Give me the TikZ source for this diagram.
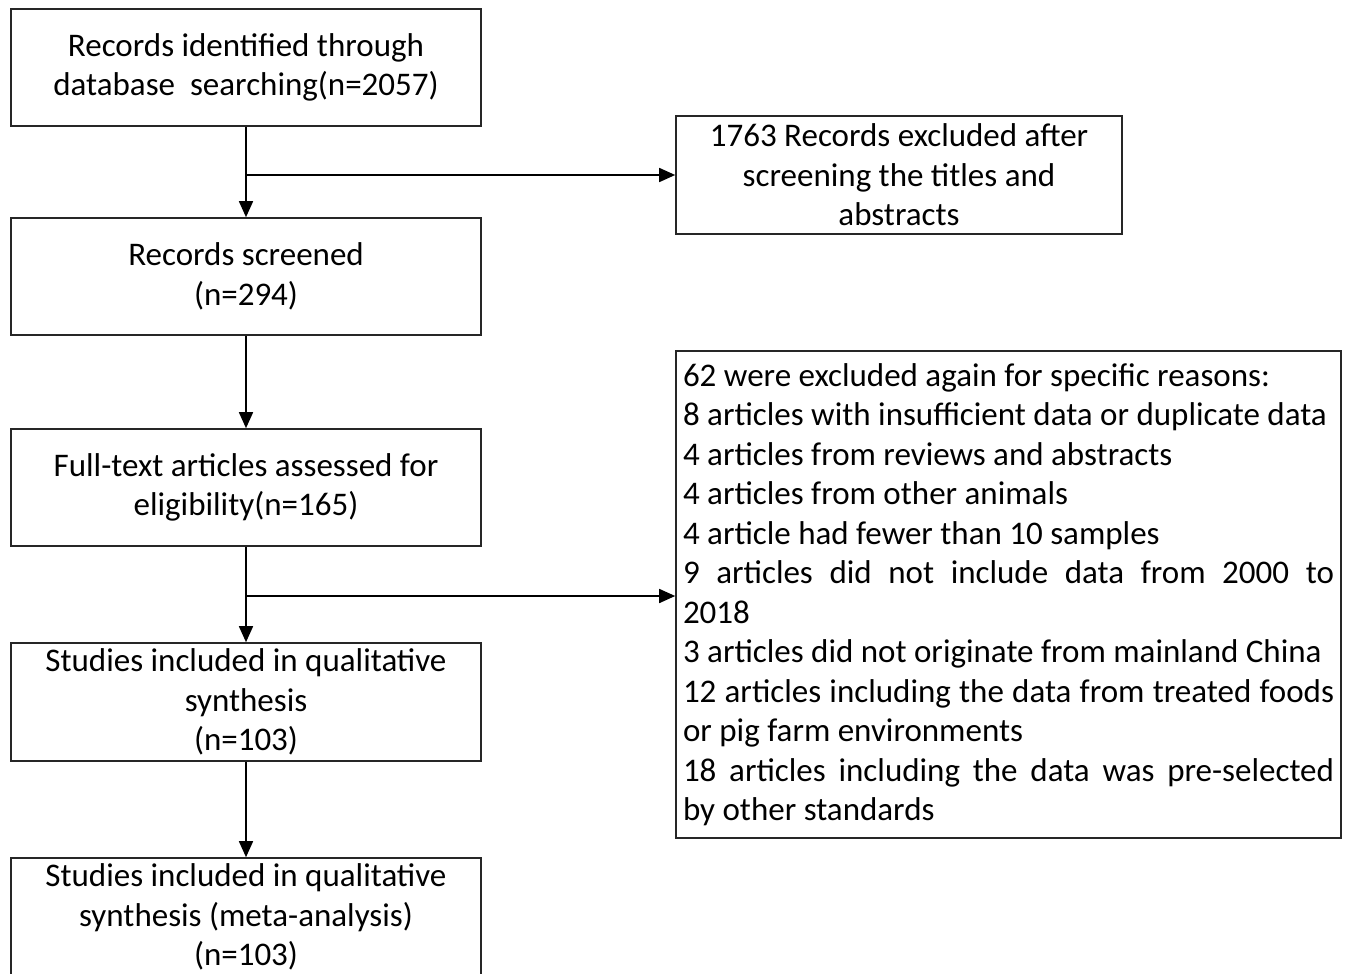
\documentclass[tikz,border=0pt]{standalone}
\usepackage{fontspec}
\setmainfont{Carlito}
\usetikzlibrary{arrows.meta}
\begin{document}
\begin{tikzpicture}[x=1pt,y=-1pt,
  box/.style={draw=black!85,line width=1.6pt,inner sep=0pt,align=flush center,
    font=\fontsize{33}{39.5}\selectfont},
  arr/.style={line width=1.6pt,-{Triangle[length=16pt,width=14pt]}}]
\useasboundingbox (0,0) rectangle (1349,974);
\node[box,minimum width=470pt,minimum height=117pt] (b1) at (246,67.5)
  {Records identified through\\database\ \ searching(n=2057)};
\node[box,minimum width=446pt,minimum height=118pt] (b2) at (899,175)
  {1763 Records excluded after\\screening the titles and\\abstracts};
\node[box,minimum width=470pt,minimum height=117pt] (b3) at (246,276.5)
  {Records screened\\(n=294)};
\node[box,minimum width=470pt,minimum height=117pt] (b4) at (246,487.5)
  {Full-text articles assessed for\\eligibility(n=165)};
\node[box,minimum width=665pt,minimum height=487pt,align=flush left,text width=651pt] (b5) at (1008.5,594.5)
  {62 were excluded again for specific reasons:\\
   8 articles with insufficient data or duplicate data\\
   4 articles from reviews and abstracts\\
   4 articles from other animals\\
   4 article had fewer than 10 samples\\
   \makebox[651pt][s]{9 articles did not include data from 2000 to}\\
   2018\\
   3 articles did not originate from mainland China\\
   \makebox[651pt][s]{12 articles including the data from treated foods}\\
   or pig farm environments\\
   \makebox[651pt][s]{18 articles including the data was pre-selected}\\
   by other standards};
\node[box,minimum width=470pt,minimum height=118pt] (b6) at (246,702)
  {Studies included in qualitative\\synthesis\\(n=103)};
\node[box,minimum width=470pt,minimum height=118pt] (b7) at (246,917)
  {Studies included in qualitative\\synthesis (meta-analysis)\\(n=103)};
\coordinate (j1) at (b1.south |- b2.west);
\coordinate (j2) at (b4.south |- 0,596);
\draw[arr] (b1.south) -- (b3.north);
\draw[arr] (j1) -- (b2.west);
\draw[arr] (b3.south) -- (b4.north);
\draw[arr] (b4.south) -- (b6.north);
\draw[arr] (j2) -- (j2 -| b5.west);
\draw[arr] (b6.south) -- (b7.north);
\end{tikzpicture}
\end{document}
